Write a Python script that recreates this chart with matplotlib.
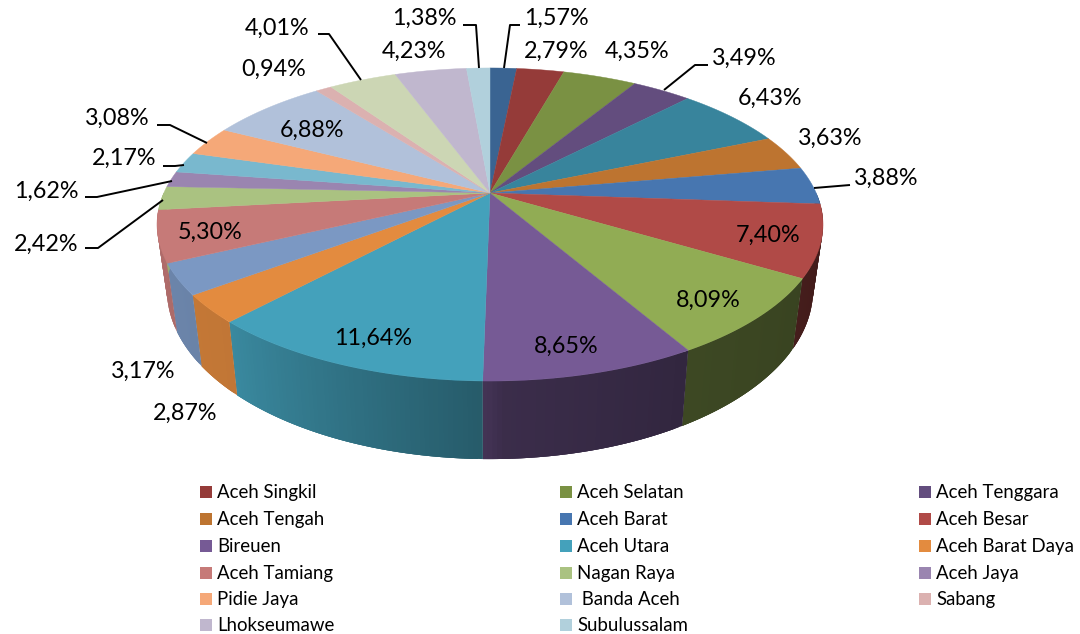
import numpy as np
import matplotlib
matplotlib.use('Agg')
import matplotlib.pyplot as plt
from matplotlib.colors import to_rgb

plt.rcParams['font.family'] = ['Lato', 'DejaVu Sans']

# slice values, clockwise from the top
values = [1.57, 2.79, 4.35, 3.49, 6.43, 3.63, 3.88, 7.40, 8.09, 8.65, 11.64, 2.87,
          3.17, 5.30, 2.42, 1.62, 2.17, 3.08, 6.88, 0.94, 4.01, 4.23, 1.38]
colors = ['#3A6492', '#953B39', '#7A9143', '#634D7E', '#38849C', '#BD7430', '#4776B0',
          '#B04A47', '#91AC54', '#765A95', '#44A1BB', '#E38B3F', '#7B98C3', '#C67A78',
          '#AAC281', '#9A85B0', '#79B8CE', '#F5A878', '#B1C1DA', '#DBB1B0', '#CCD6B4',
          '#C0B7CE', '#B1D0DC']
labels = ['1,57%', '2,79%', '4,35%', '3,49%', '6,43%', '3,63%', '3,88%', '7,40%', '8,09%',
          '8,65%', '11,64%', '2,87%', '3,17%', '5,30%', '2,42%', '1,62%', '2,17%', '3,08%',
          '6,88%', '0,94%', '4,01%', '4,23%', '1,38%']
# label centres in image pixels
label_x = [556, 556, 637, 744, 770, 830, 886, 768, 708, 566, 373, 185,
           143, 210, 46, 46, 124, 117, 312, 274, 277, 414, 424]
label_y = [18, 51, 51, 58, 98, 138, 178, 235, 300, 346, 338, 413,
           371, 232, 244, 191, 158, 118, 130, 69, 28, 51, 18]
# leader lines, in image pixels
leaders = {0: [(504, 68), (510, 25), (520, 25)],
           3: [(664, 90), (695, 65), (708, 65)],
           6: [(814, 188), (850, 185)],
           14: [(163, 200), (98, 248), (85, 248)],
           15: [(172, 181), (97, 197), (85, 197)],
           16: [(184, 165), (175, 166), (163, 166)],
           17: [(207, 143), (170, 125), (157, 125)],
           20: [(361, 80), (329, 34), (318, 34)],
           22: [(479, 68), (476, 25), (463, 25)]}

legend_names = ['Aceh Singkil', 'Aceh Selatan', 'Aceh Tenggara',
                'Aceh Tengah', 'Aceh Barat', 'Aceh Besar',
                'Bireuen', 'Aceh Utara', 'Aceh Barat Daya',
                'Aceh Tamiang', 'Nagan Raya', 'Aceh Jaya',
                'Pidie Jaya', ' Banda Aceh', 'Sabang',
                'Lhokseumawe', 'Subulussalam']
legend_colors = ['#953B39', '#7A9143', '#634D7E', '#BD7430', '#4776B0', '#B04A47',
                 '#765A95', '#44A1BB', '#E38B3F', '#C67A78', '#AAC281', '#9A85B0',
                 '#F5A878', '#B1C1DA', '#DBB1B0', '#C0B7CE', '#B1D0DC']

W, H = 1080, 634
fig = plt.figure(figsize=(W / 100, H / 100), dpi=100)
ax = fig.add_axes([0, 0, 1, 1])
ax.set_xlim(0, W)
ax.set_ylim(H, 0)
ax.axis('off')


# circle to perspective ellipse
def top_pt(t):
    u, v = np.sin(t), np.cos(t)
    w = 1 + 0.2013 * v
    return 490 + 326.2 * u / w, 193 - 150.2 * v / w


def bot_pt(t):
    x, y = top_pt(t)
    return 490 + (x - 490) * 0.97, 256 + (y - 193) * 1.08


def side_shade(c, t):
    # dark on the right, lighter towards the left
    f = np.interp(t / np.pi, [0.5, 0.83, 0.99, 1.0, 1.238, 1.5], [0.36, 0.42, 0.5, 0.56, 0.85, 0.9])
    return tuple(np.array(to_rgb(c)) * f)


edges = np.cumsum([0] + values) / sum(values) * 2 * np.pi

# side walls, strips overlap a little so no seams show
for i in range(len(values)):
    a, b = max(edges[i], np.pi / 2), min(edges[i + 1], 3 * np.pi / 2)
    if b <= a:
        continue
    n = max(2, int((b - a) / 0.012))
    ts = np.linspace(a, b, n + 1)
    step = ts[1] - ts[0]
    for t0, t1 in zip(ts[:-1], ts[1:]):
        tm = (t0 + t1) / 2
        t1 = min(t1 + 2 * step, b)
        x0, y0 = top_pt(t0)
        x1, y1 = top_pt(t1)
        x2, y2 = bot_pt(t1)
        x3, y3 = bot_pt(t0)
        ax.fill([x0, x1, x2, x3], [y0, y1, y2, y3], color=side_shade(colors[i], tm),
                lw=0, zorder=2)

# top face
for i in range(len(values)):
    ts = np.linspace(edges[i], edges[i + 1], 60)
    xs, ys = top_pt(ts)
    ax.fill(np.r_[490, xs], np.r_[193, ys], color=colors[i], lw=0.3, zorder=3)

for i, txt in enumerate(labels):
    ax.text(label_x[i], label_y[i], txt, fontsize=16.8, ha='center', va='center',
            color='black', zorder=5)

for pts in leaders.values():
    ax.plot([p[0] for p in pts], [p[1] for p in pts], color='black', lw=1.4, zorder=4,
            solid_capstyle='butt')

# legend, three columns
col_x = [200, 560, 919]
row_y = [492, 519, 546, 573, 599, 625]
for k, name in enumerate(legend_names):
    x = col_x[k % 3]
    y = row_y[k // 3]
    ax.fill([x, x + 12, x + 12, x], [y - 6, y - 6, y + 6, y + 6], color=legend_colors[k], lw=0)
    ax.text(x + 17, y + 6, name, fontsize=13.4, ha='left', va='baseline', color='black')

fig.savefig('out.png', dpi=100)
